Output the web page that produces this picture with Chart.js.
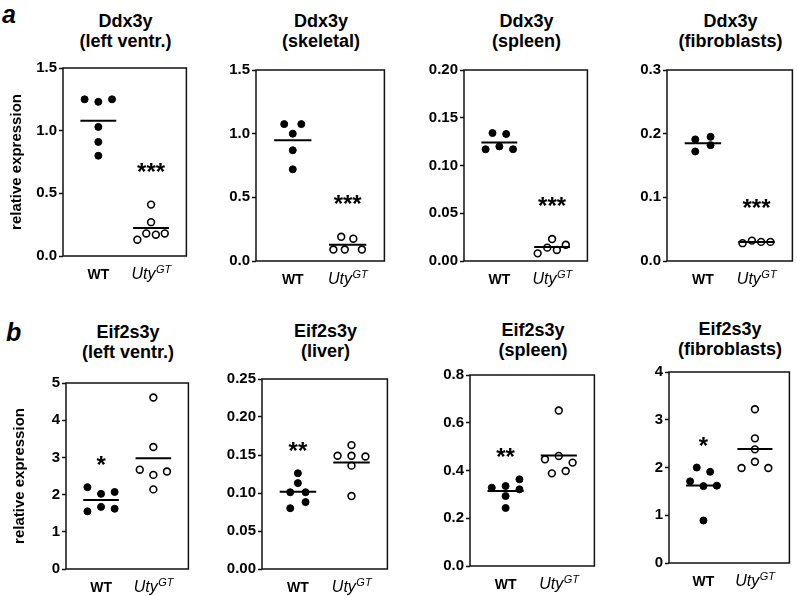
<!DOCTYPE html>
<html>
<head>
<meta charset="utf-8">
<script src="https://cdn.jsdelivr.net/npm/chart.js@4.4.0/dist/chart.umd.min.js"></script>
<style>
  body { margin: 0; background: #fff; font-family: "Liberation Sans", Arial, sans-serif; }
  #fig { position: relative; width: 797px; height: 596px; overflow: hidden; }
  canvas { position: absolute; }
  .ttl { position: absolute; width: 200px; text-align: center; font-weight: bold; font-size: 18px; line-height: 20px; color: #000; }
  .lett { position: absolute; font-weight: bold; font-style: italic; font-size: 25px; line-height: 25px; color: #000; }
</style>
</head>
<body>
<div id="fig"></div>
<script>
// groups on the x axis (1 = WT, 2 = Uty gene trap)
const groupNames = ['WT', 'Uty'];

// row a: Ddx3y
const ddxLvWT = [1.25, 1.23, 1.25, 1.03, 0.91, 0.80];
const ddxLvWTCol = [-1, 0, 1, 0, 0, 0];
const ddxLvUty = [0.41, 0.27, 0.13, 0.18, 0.17, 0.18];
const ddxLvUtyCol = [0, 0, -1, -0.35, 0.35, 1];

const ddxSkWT = [1.075, 1.075, 1.00, 0.87, 0.72];
const ddxSkWTCol = [-0.6, 0.6, 0, 0, 0];
const ddxSkUty = [0.19, 0.175, 0.09, 0.09, 0.09];
const ddxSkUtyCol = [-0.45, 0.4, -1, -0.2, 1];

const ddxSpWT = [0.134, 0.133, 0.117, 0.120, 0.117];
const ddxSpWTCol = [-0.5, 0.5, -1, 0, 1];
const ddxSpUty = [0.008, 0.014, 0.0115, 0.017, 0.023];
const ddxSpUtyCol = [-1.05, -0.35, 0.35, 1, 0];

const ddxFbWT = [0.191, 0.195, 0.172, 0.182];
const ddxFbWTCol = [-0.55, 0.55, -0.55, 0.55];
const ddxFbUty = [0.028, 0.032, 0.030, 0.030];
const ddxFbUtyCol = [-1, -0.33, 0.33, 1];

// row b: Eif2s3y
const eifLvWT = [2.20, 2.02, 2.07, 1.55, 1.67, 1.62];
const eifLvWTCol = [-1, 0, 1, -1, 0, 1];
const eifLvUty = [4.61, 3.28, 2.67, 2.53, 2.62, 2.14];
const eifLvUtyCol = [0, 0, -1, 0, 1, 0];

const eifLiWT = [0.126, 0.113, 0.101, 0.101, 0.088, 0.080];
const eifLiWTCol = [0, 0, -0.55, 0.55, 0.55, -0.55];
const eifLiUty = [0.163, 0.149, 0.149, 0.148, 0.136, 0.096];
const eifLiUtyCol = [0, -1, 0, 1, 0, 0];

const eifSpWT = [0.328, 0.335, 0.363, 0.293, 0.321, 0.243];
const eifSpWTCol = [-1, 0, 1, 0, 1, 0];
const eifSpUty = [0.651, 0.447, 0.461, 0.433, 0.388, 0.398];
const eifSpUtyCol = [0, -1, 0, 1, -0.5, 0.5];

const eifFbWT = [2.00, 1.91, 1.71, 1.61, 1.62, 0.89];
const eifFbWTCol = [-0.5, 0.5, -1, 0, 1, 0];
const eifFbUty = [3.22, 2.61, 2.38, 2.12, 1.99, 1.99];
const eifFbUtyCol = [0, 0, 0, 0, -1, 1];

// per-panel axis / label info
const titles = [
  ['Ddx3y', '(left ventr.)'], ['Ddx3y', '(skeletal)'], ['Ddx3y', '(spleen)'], ['Ddx3y', '(fibroblasts)'],
  ['Eif2s3y', '(left ventr.)'], ['Eif2s3y', '(liver)'], ['Eif2s3y', '(spleen)'], ['Eif2s3y', '(fibroblasts)']
];
const yMax = [1.5, 1.5, 0.2, 0.3, 5, 0.25, 0.8, 4];
const yStep = [0.5, 0.5, 0.05, 0.1, 1, 0.05, 0.2, 1];
const yDecimals = [1, 1, 2, 1, 0, 2, 1, 0];
const sigText = ['***', '***', '***', '***', '*', '**', '**', '*'];
const sigGroup = [1, 1, 1, 1, 0, 0, 0, 0];

const panelData = [
  [ddxLvWT, ddxLvWTCol, ddxLvUty, ddxLvUtyCol],
  [ddxSkWT, ddxSkWTCol, ddxSkUty, ddxSkUtyCol],
  [ddxSpWT, ddxSpWTCol, ddxSpUty, ddxSpUtyCol],
  [ddxFbWT, ddxFbWTCol, ddxFbUty, ddxFbUtyCol],
  [eifLvWT, eifLvWTCol, eifLvUty, eifLvUtyCol],
  [eifLiWT, eifLiWTCol, eifLiUty, eifLiUtyCol],
  [eifSpWT, eifSpWTCol, eifSpUty, eifSpUtyCol],
  [eifFbWT, eifFbWTCol, eifFbUty, eifFbUtyCol]
];

// page layout: plot box of each panel in page pixels
const boxes = [
  { left: 63, right: 188, top: 68, bottom: 256, titleTop: 11 },
  { left: 256, right: 386, top: 70, bottom: 261, titleTop: 11 },
  { left: 464, right: 589, top: 70, bottom: 261, titleTop: 11 },
  { left: 667, right: 794, top: 70, bottom: 261, titleTop: 11 },
  { left: 66, right: 190, top: 383, bottom: 569, titleTop: 322 },
  { left: 262, right: 389, top: 379, bottom: 569, titleTop: 321 },
  { left: 470, right: 596, top: 375, bottom: 566, titleTop: 320 },
  { left: 669, right: 791, top: 372, bottom: 563, titleTop: 319 }
];

const FONT = '"Liberation Sans", Arial, sans-serif';
const SLOT = 0.26;      // swarm column width in x units
const MEAN_HALF = 0.34; // half length of mean bar
const INK = '#111';

const mean = a => a.reduce((s, v) => s + v, 0) / a.length;

const framePlugin = {
  id: 'frame',
  afterDraw(chart, args, opts) {
    const { ctx, chartArea: a, scales } = chart;
    ctx.save();
    ctx.strokeStyle = INK;
    ctx.lineWidth = 1.5;
    ctx.strokeRect(a.left, a.top, a.right - a.left, a.bottom - a.top);

    // category labels
    const base = a.bottom + 23;
    ctx.fillStyle = '#000';
    ctx.textBaseline = 'alphabetic';
    ctx.textAlign = 'center';
    ctx.font = 'bold 14px ' + FONT;
    ctx.fillText(groupNames[0], scales.x.getPixelForValue(1), base);
    const mainF = 'italic 16px ' + FONT, supF = 'italic 11px ' + FONT;
    ctx.font = mainF;
    const w1 = ctx.measureText(groupNames[1]).width;
    ctx.font = supF;
    const w2 = ctx.measureText('GT').width;
    const x0 = scales.x.getPixelForValue(2) - (w1 + w2) / 2;
    ctx.textAlign = 'left';
    ctx.font = mainF;
    ctx.fillText(groupNames[1], x0, base);
    ctx.font = supF;
    ctx.fillText('GT', x0 + w1 + 0.5, base - 6);

    // significance stars above a group
    const top = scales.y.getPixelForValue(Math.max(...opts.vals)) - opts.gap;
    ctx.textAlign = 'center';
    ctx.font = 'bold 24px ' + FONT;
    ctx.fillText(opts.text, scales.x.getPixelForValue(opts.group + 1), top + 14);
    ctx.restore();
  }
};

const fig = document.getElementById('fig');

['a', 'b'].forEach((l, r) => {
  const d = document.createElement('div');
  d.className = 'lett';
  d.textContent = l;
  d.style.left = (r ? 6 : 2) + 'px';
  d.style.top = (r ? 320 : 2) + 'px';
  fig.appendChild(d);
});

boxes.forEach((B, i) => {
  const [wt, wtCol, uty, utyCol] = panelData[i];
  const firstCol = i % 4 === 0;
  const yW = firstCol ? 63 : 52, padTop = 12, xH = 34, padR = 4;
  const w = B.right - B.left + yW + padR;
  const h = B.bottom - B.top + padTop + xH;

  const t = document.createElement('div');
  t.className = 'ttl';
  t.innerHTML = titles[i].join('<br>');
  t.style.left = ((B.left + B.right) / 2 - 100) + 'px';
  t.style.top = B.titleTop + 'px';
  fig.appendChild(t);

  const cv = document.createElement('canvas');
  cv.width = w; cv.height = h;
  cv.style.left = (B.left - yW) + 'px';
  cv.style.top = (B.top - padTop) + 'px';
  fig.appendChild(cv);

  const wtMean = mean(wt), utyMean = mean(uty);
  new Chart(cv, {
    type: 'scatter',
    data: {
      datasets: [
        { data: wt.map((v, k) => ({ x: 1 + wtCol[k] * SLOT, y: v })),
          pointRadius: 3.5, pointBorderWidth: 1, pointBackgroundColor: '#000', pointBorderColor: '#000', order: 0 },
        { data: uty.map((v, k) => ({ x: 2 + utyCol[k] * SLOT, y: v })),
          pointRadius: 3.4, pointBorderWidth: 1.6, pointBackgroundColor: 'rgba(0,0,0,0)', pointBorderColor: '#000', order: 0 },
        { data: [{ x: 1 - MEAN_HALF, y: wtMean }, { x: 1 + MEAN_HALF, y: wtMean }],
          showLine: true, pointRadius: 0, borderWidth: 2, borderColor: '#000', order: 1 },
        { data: [{ x: 2 - MEAN_HALF, y: utyMean }, { x: 2 + MEAN_HALF, y: utyMean }],
          showLine: true, pointRadius: 0, borderWidth: 2, borderColor: '#000', order: 1 }
      ]
    },
    options: {
      responsive: false,
      animation: false,
      devicePixelRatio: 1,
      clip: false,
      layout: { padding: { top: padTop, right: padR, left: 0, bottom: 0 } },
      plugins: {
        legend: { display: false },
        tooltip: { enabled: false },
        frame: { text: sigText[i], group: sigGroup[i], vals: sigGroup[i] ? uty : wt, gap: sigGroup[i] ? 39 : 28 }
      },
      scales: {
        x: {
          min: 0.33, max: 2.67,
          ticks: { display: false },
          grid: { display: false },
          border: { display: false },
          afterFit: s => { s.height = xH; }
        },
        y: {
          min: 0, max: yMax[i],
          ticks: {
            stepSize: yStep[i], padding: 2, color: '#000',
            font: { family: FONT, size: 15, weight: 'bold' },
            callback: v => Number(v).toFixed(yDecimals[i])
          },
          grid: { drawOnChartArea: false, drawTicks: true, tickLength: 4, tickColor: INK, tickWidth: 1.5 },
          border: { display: false },
          title: {
            display: firstCol, text: 'relative expression', color: '#000',
            font: { family: FONT, size: 15, weight: 'bold' }, padding: { top: 7.5 }
          },
          afterFit: s => { s.width = yW; }
        }
      }
    },
    plugins: [framePlugin]
  });
});
</script>
</body>
</html>
